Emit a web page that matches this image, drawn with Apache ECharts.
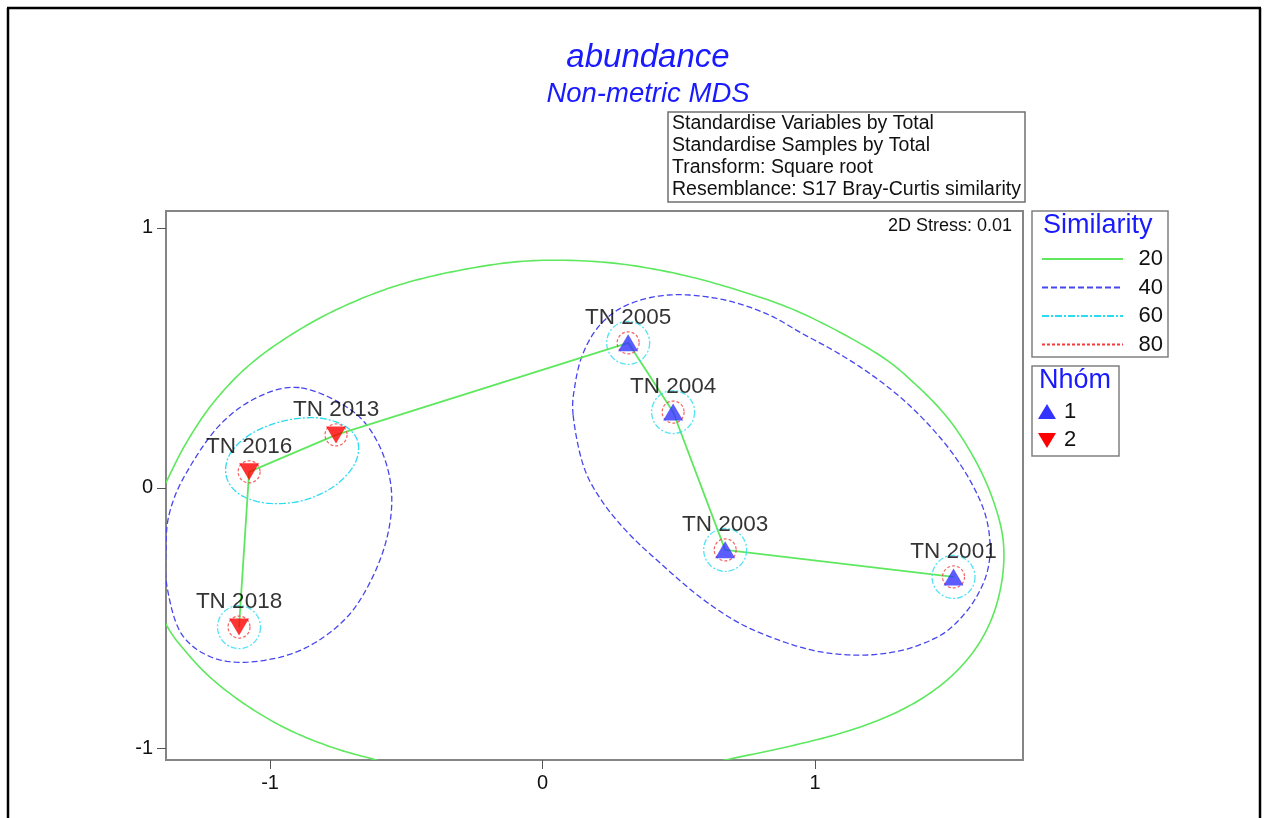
<!DOCTYPE html>
<html>
<head>
<meta charset="utf-8">
<script src="https://cdn.jsdelivr.net/npm/echarts@6/dist/echarts.min.js"></script>
<style>html,body{margin:0;padding:0;background:#fff}#c{width:1268px;height:818px}</style>
</head>
<body>
<div id="c"></div>
<script>
// ---------------- DATA ----------------
const xTicks = [-1, 0, 1];
const yTicks = [-1, 0, 1];

const sampleNames = ['TN 2001', 'TN 2003', 'TN 2004', 'TN 2005', 'TN 2013', 'TN 2016', 'TN 2018'];
const sampleX     = [1.508, 0.670, 0.479, 0.314, -0.758, -1.077, -1.114];
const sampleY     = [-0.342, -0.238, 0.292, 0.558, 0.204, 0.062, -0.535];
const sampleGroup = [1, 1, 1, 1, 2, 2, 2];

// minimum spanning tree path (green links)
const mstPath = ['TN 2018', 'TN 2016', 'TN 2013', 'TN 2005', 'TN 2004', 'TN 2003', 'TN 2001'];

// samples whose 60% cluster is a single sample (small circle)
const single60 = ['TN 2001', 'TN 2003', 'TN 2004', 'TN 2005', 'TN 2018'];

// cluster contours (data units)
const contour20 = [[-1.444,-0.246],[-1.433,-0.104],[-1.374,0.038],[-1.301,0.185],[-1.209,0.327],[-1.088,0.462],[-0.941,0.577],[-0.758,0.685],[-0.538,0.777],[-0.299,0.838],[-0.053,0.873],[0.215,0.869],[0.461,0.831],[0.703,0.765],[0.949,0.673],[1.224,0.519],[1.371,0.396],[1.492,0.262],[1.587,0.108],[1.653,-0.046],[1.690,-0.200],[1.686,-0.354],[1.646,-0.508],[1.572,-0.642],[1.462,-0.758],[1.316,-0.854],[1.132,-0.931],[0.912,-0.992],[0.670,-1.046],[0.398,-1.108],[0.031,-1.146],[-0.336,-1.123],[-0.611,-1.046],[-0.776,-0.996],[-0.937,-0.927],[-1.088,-0.835],[-1.217,-0.731],[-1.308,-0.631],[-1.378,-0.531],[-1.429,-0.392]];
const contour40a = [[-0.886,0.385],[-0.703,0.300],[-0.604,0.173],[-0.556,0.004],[-0.567,-0.173],[-0.629,-0.354],[-0.728,-0.508],[-0.886,-0.623],[-1.070,-0.669],[-1.217,-0.650],[-1.327,-0.558],[-1.378,-0.381],[-1.382,-0.238],[-1.371,-0.104],[-1.316,0.042],[-1.191,0.235],[-1.044,0.350]];
const contour40b = [[0.112,0.281],[0.119,0.396],[0.145,0.508],[0.196,0.608],[0.270,0.681],[0.361,0.723],[0.464,0.742],[0.581,0.738],[0.710,0.712],[0.838,0.662],[0.949,0.596],[1.077,0.523],[1.198,0.442],[1.316,0.346],[1.418,0.242],[1.506,0.131],[1.576,0.015],[1.624,-0.100],[1.642,-0.212],[1.635,-0.308],[1.606,-0.392],[1.554,-0.477],[1.473,-0.558],[1.360,-0.612],[1.242,-0.638],[1.125,-0.642],[1.004,-0.627],[0.875,-0.588],[0.728,-0.523],[0.582,-0.423],[0.435,-0.292],[0.314,-0.173],[0.215,-0.046],[0.149,0.088]];
const contour60a = [[-0.677,0.173],[-0.692,0.088],[-0.769,0.004],[-0.886,-0.050],[-1.015,-0.058],[-1.114,-0.023],[-1.161,0.046],[-1.147,0.131],[-1.070,0.208],[-0.949,0.258],[-0.820,0.269],[-0.721,0.235]];

const similarityLevels = ['20', '40', '60', '80'];
const groupNames = ['1', '2'];
const infoLines = ['Standardise Variables by Total', 'Standardise Samples by Total', 'Transform: Square root', 'Resemblance: S17 Bray-Curtis similarity'];
const stressText = '2D Stress: 0.01';
const titleText = 'abundance';
const subtitleText = 'Non-metric MDS';

// ---------------- STYLE ----------------
const FONT = '"Liberation Sans", Arial, sans-serif';
const C20 = '#5ee85e', C40 = '#4646f0', C60 = '#2adcf0', C80 = '#f03c3c';
const levelStyle = {
  '20': { color: C20, width: 1.6, dash: null },
  '40': { color: C40, width: 1.3, dash: [6, 3] },
  '60': { color: C60, width: 1.3, dash: [7, 2, 2, 2] },
  '80': { color: C80, width: 1.2, dash: [3, 2] }
};

const idx = n => sampleNames.indexOf(n);
const pt = n => [sampleX[idx(n)], sampleY[idx(n)]];

const contours = [
  { pts: contour20, lv: '20' },
  { pts: contour40a, lv: '40' },
  { pts: contour40b, lv: '40' },
  { pts: contour60a, lv: '60' }
];

// closed Catmull-Rom smoothing in pixel space (rendering only)
function smoothClosed(P) {
  const n = P.length, out = [], steps = 14;
  for (let i = 0; i < n; i++) {
    const p0 = P[(i - 1 + n) % n], p1 = P[i], p2 = P[(i + 1) % n], p3 = P[(i + 2) % n];
    for (let s = 0; s < steps; s++) {
      const t = s / steps, t2 = t * t, t3 = t2 * t;
      const f = (a, b, c, d) => 0.5 * ((2 * b) + (-a + c) * t + (2 * a - 5 * b + 4 * c - d) * t2 + (-a + 3 * b - 3 * c + d) * t3);
      out.push([f(p0[0], p1[0], p2[0], p3[0]), f(p0[1], p1[1], p2[1], p3[1])]);
    }
  }
  return out;
}

function renderContour(params, api) {
  const c = contours[params.dataIndex];
  const st = levelStyle[c.lv];
  const pts = smoothClosed(c.pts.map(p => api.coord(p)));
  return {
    type: 'polygon',
    shape: { points: pts },
    style: { fill: 'none', stroke: st.color, lineWidth: st.width, lineDash: st.dash }
  };
}

const chart = echarts.init(document.getElementById('c'), null, { renderer: 'canvas' });

// legend graphics
const legendX = 1032, legendY = 211;
const legendGraphics = [];
legendGraphics.push({ type: 'rect', shape: { x: legendX, y: legendY, width: 136, height: 146 }, style: { fill: '#fff', stroke: '#808080', lineWidth: 1.5 } });
legendGraphics.push({ type: 'text', x: legendX + 11, y: legendY + 15, style: { text: 'Similarity', font: '27px ' + FONT, fill: '#1a1aff', textVerticalAlign: 'middle' } });
similarityLevels.forEach((lv, i) => {
  const y = legendY + 48 + i * 28.5;
  const st = levelStyle[lv];
  legendGraphics.push({ type: 'line', shape: { x1: legendX + 10, y1: y, x2: legendX + 91, y2: y }, style: { stroke: st.color, lineWidth: 2, lineDash: st.dash } });
  legendGraphics.push({ type: 'text', x: legendX + 131, y: y, style: { text: lv, font: '22px ' + FONT, fill: '#111', textAlign: 'right', textVerticalAlign: 'middle' } });
});
const gY = 366;
legendGraphics.push({ type: 'rect', shape: { x: legendX, y: gY, width: 87, height: 90 }, style: { fill: '#fff', stroke: '#808080', lineWidth: 1.5 } });
legendGraphics.push({ type: 'text', x: legendX + 7, y: gY + 15, style: { text: 'Nhóm', font: '27px ' + FONT, fill: '#1a1aff', textVerticalAlign: 'middle' } });
groupNames.forEach((g, i) => {
  const y = gY + 46 + i * 28;
  const up = i === 0;
  legendGraphics.push({ type: 'polygon', shape: { points: up ? [[legendX + 15, y - 8], [legendX + 6, y + 7], [legendX + 24, y + 7]] : [[legendX + 15, y + 8], [legendX + 6, y - 7], [legendX + 24, y - 7]] }, style: { fill: up ? '#3333ff' : '#ff0000' } });
  legendGraphics.push({ type: 'text', x: legendX + 32, y: y, style: { text: g, font: '22px ' + FONT, fill: '#111', textVerticalAlign: 'middle' } });
});

// info box
const infoGraphics = [{ type: 'rect', shape: { x: 668, y: 112, width: 357, height: 90 }, style: { fill: '#fff', stroke: '#707070', lineWidth: 1.5 } }];
infoLines.forEach((t, i) => {
  infoGraphics.push({ type: 'text', x: 672, y: 124 + i * 22, style: { text: t, font: '19.5px ' + FONT, fill: '#111', textVerticalAlign: 'middle' } });
});

const frame = [
  { type: 'line', shape: { x1: 8, y1: 8, x2: 8, y2: 818 }, style: { stroke: '#000', lineWidth: 2.5 } },
  { type: 'line', shape: { x1: 7, y1: 8, x2: 1261, y2: 8 }, style: { stroke: '#000', lineWidth: 2.5 } },
  { type: 'line', shape: { x1: 1260, y1: 8, x2: 1260, y2: 818 }, style: { stroke: '#000', lineWidth: 2.5 } }
];

const titles = [
  { type: 'text', x: 648, y: 58, style: { text: titleText, font: 'italic 33px ' + FONT, fill: '#1a1aff', textAlign: 'center', textVerticalAlign: 'middle' } },
  { type: 'text', x: 648, y: 94, style: { text: subtitleText, font: 'italic 27.5px ' + FONT, fill: '#1a1aff', textAlign: 'center', textVerticalAlign: 'middle' } },
  { type: 'text', x: 1012, y: 226, style: { text: stressText, font: '18px ' + FONT, fill: '#111', textAlign: 'right', textVerticalAlign: 'middle' } }
];

const labelStyle = { show: true, position: 'top', distance: 5, formatter: p => p.name, fontFamily: FONT, fontSize: 22.5, color: '#000' };

function markerData(g) {
  return sampleNames.map((n, i) => ({ n, i })).filter(o => sampleGroup[o.i] === g).map(o => ({ name: o.n, value: [sampleX[o.i], sampleY[o.i]] }));
}

const option = {
  animation: false,
  backgroundColor: '#fff',
  grid: { left: 166, right: 245, top: 211, bottom: 58, show: true, borderColor: '#858585', borderWidth: 2, backgroundColor: 'transparent' },
  xAxis: {
    type: 'value', min: -1.382, max: 1.763,
    splitLine: { show: false },
    axisLine: { show: true, onZero: false, lineStyle: { color: '#858585', width: 2 } },
    axisTick: { show: true, length: 9, customValues: xTicks, lineStyle: { color: '#555', width: 1 } },
    axisLabel: { customValues: xTicks, margin: 13, fontFamily: FONT, fontSize: 20, color: '#111', formatter: v => String(v) }
  },
  yAxis: {
    type: 'value', min: -1.046, max: 1.065,
    splitLine: { show: false },
    axisLine: { show: true, onZero: false, lineStyle: { color: '#858585', width: 2 } },
    axisTick: { show: true, length: 9, customValues: yTicks, lineStyle: { color: '#555', width: 1 } },
    axisLabel: { customValues: yTicks, margin: 13, fontFamily: FONT, fontSize: 20, color: '#111', formatter: v => String(v) }
  },
  series: [
    {
      type: 'custom', name: 'contours', clip: true, silent: true, z: 1,
      renderItem: renderContour,
      data: contours.map((c, i) => ({ value: [c.pts[0][0], c.pts[0][1], i] }))
    },
    {
      type: 'line', name: 'mst', z: 2, silent: true, symbol: 'none',
      lineStyle: { color: C20, width: 1.8 },
      data: mstPath.map(n => pt(n))
    },
    {
      type: 'scatter', name: '60', z: 3, silent: true, symbol: 'circle', symbolSize: 43,
      itemStyle: { color: 'rgba(0,0,0,0)', borderColor: C60, borderWidth: 1.3, borderType: [6, 2, 2, 2] },
      data: single60.map(n => pt(n))
    },
    {
      type: 'scatter', name: '80', z: 3, silent: true, symbol: 'circle', symbolSize: 22,
      itemStyle: { color: 'rgba(0,0,0,0)', borderColor: C80, borderWidth: 1.2, borderType: [3, 2] },
      data: sampleNames.map(n => pt(n))
    },
    {
      type: 'scatter', name: '1', z: 4, silent: true, symbol: 'triangle', symbolSize: [20, 17],
      itemStyle: { color: '#3333ff' }, label: labelStyle,
      data: markerData(1)
    },
    {
      type: 'scatter', name: '2', z: 4, silent: true, symbol: 'triangle', symbolSize: [20, 17], symbolRotate: 180,
      itemStyle: { color: '#ff0000' }, label: labelStyle,
      data: markerData(2)
    }
  ],
  graphic: [].concat(frame, titles, infoGraphics, legendGraphics)
};
chart.setOption(option);
</script>
</body>
</html>
